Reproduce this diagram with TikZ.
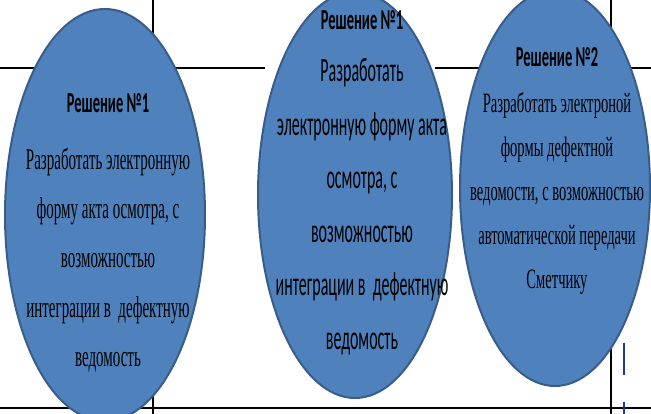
\documentclass[tikz,border=0pt]{standalone}
\usepackage{fontspec}
\newfontfamily\headfont[FakeStretch=0.5]{Carlito}
\newfontfamily\bodyserif[FakeStretch=0.5]{Liberation Serif}
\newfontfamily\bodyseriftwo[FakeStretch=0.52]{Liberation Serif}
\newfontfamily\bodysans[FakeStretch=0.47]{Carlito}
\usetikzlibrary{shapes.geometric}
\definecolor{solfill}{HTML}{4F81BD}
\definecolor{solline}{HTML}{385D8A}
\definecolor{dashblue}{HTML}{1F3A8A}
\tikzset{x=1pt,y=-1pt,
  solution/.style={ellipse,draw=solline,fill=solfill,line width=2pt,inner sep=0pt},
  heading/.style={anchor=base,font=\headfont\bfseries\fontsize{29}{29}\selectfont},
  serifline/.style={anchor=base,font=\bodyserif\fontsize{30}{30}\selectfont},
  sansline/.style={anchor=base,font=\bodysans\fontsize{34}{34}\selectfont},
  tableline/.style={line width=1.5pt}}

\begin{document}
\begin{tikzpicture}
  \useasboundingbox (0,0) rectangle (651,414);
  \clip (0,0) rectangle (651,414);
  % table lines behind the ellipses
  \draw[tableline] (0,68) -- (265,68);
  \draw[tableline] (435,68) -- (651,68);
  \draw[tableline] (153,0) -- (153,414);
  \draw[tableline] (611,0) -- (611,414);
  \draw[tableline, line width=2.5pt] (0,408) -- (651,408);
  \draw[dashblue, line width=2pt, dash pattern=on 32pt off 27pt] (624,343) -- (624,420);
  % ellipses
  \node[solution, minimum width=200pt, minimum height=412pt] (sol1) at (105,215) {};
  \node[solution, minimum width=194pt, minimum height=406pt] (sol2) at (355,195) {};
  \node[solution, minimum width=190pt, minimum height=396pt] (sol3) at (555,188) {};
  % first solution
  \node[heading] (head1) at (108,113) {Решение №1};
  \foreach \line [count=\i] in {Разработать электронную, {форму акта осмотра, с}, возможностью, интеграции в~~дефектную, ведомость}
    \node[serifline] (one\i) at (108,{170+49*(\i-1)}) {\line};
  % first solution, second copy
  \node[heading] (head2) at (362,30) {Решение №1};
  \foreach \line [count=\i] in {Разработать, электронную форму акта, {осмотра, с}, возможностью, интеграции в~~дефектную, ведомость}
    \node[sansline] (two\i) at (362,{82+53.5*(\i-1)}) {\line};
  % second solution
  \node[heading] (head3) at (557,67) {Решение №2};
  \foreach \line [count=\i] in {Разработать электроной, формы дефектной, {ведомости, с возможностью}, автоматической передачи, Сметчику}
    \node[serifline, font=\bodyseriftwo\fontsize{28}{28}\selectfont] (three\i) at (557,{113+44*(\i-1)}) {\line};
\end{tikzpicture}
\end{document}
